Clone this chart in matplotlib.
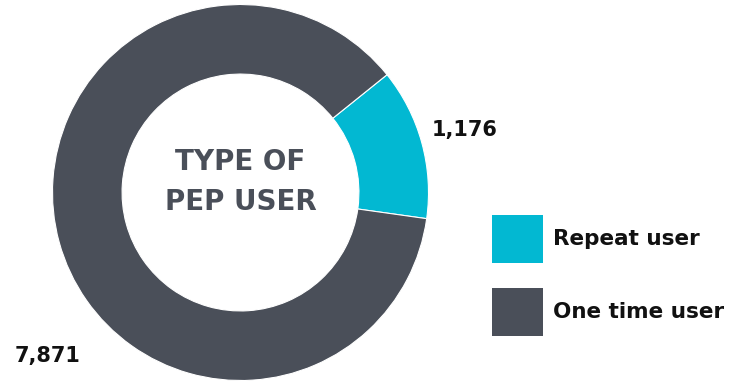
import matplotlib.pyplot as plt
from matplotlib.patches import Rectangle

# PEP user breakdown
labels = ["Repeat user", "One time user"]
counts = [1176, 7871]
colors = ["#02b8d2", "#4a4f59"]

W, H = 733, 384
plt.rcParams['font.family'] = ['DejaVu Sans']

fig = plt.figure(figsize=(W / 100, H / 100), dpi=100)

# overlay axes in pixel units for the legend
bg = fig.add_axes([0, 0, 1, 1])
bg.set_xlim(0, W)
bg.set_ylim(H, 0)
bg.axis('off')

# donut
cx, cy, r = 240.5, 192.5, 188
ax = fig.add_axes([(cx - r) / W, (H - cy - r) / H, 2 * r / W, 2 * r / H])
wedges, _ = ax.pie(counts, colors=colors, startangle=-8, counterclock=True,
                   radius=1, wedgeprops=dict(width=0.37, edgecolor='white', linewidth=0.8))
ax.set_xlim(-1, 1)
ax.set_ylim(-1, 1)
ax.set_aspect('equal')
ax.axis('off')

ax.text(0, 0.16, "TYPE OF", ha='center', va='center', fontsize=20,
        fontweight='bold', color='#4a4f59')
ax.text(0, -0.05, "PEP USER", ha='center', va='center', fontsize=20,
        fontweight='bold', color='#4a4f59')

# value labels
ax.text(1.015, 0.33, f"{counts[0]:,}", ha='left', va='center', fontsize=15,
        fontweight='bold', color='#111111', clip_on=False)
ax.text(-1.027, -0.87, f"{counts[1]:,}", ha='center', va='center', fontsize=15,
        fontweight='bold', color='#111111', clip_on=False)

# legend
for i, (lab, col) in enumerate(zip(labels, colors)):
    y0 = 215 + i * 73
    bg.add_patch(Rectangle((492, y0), 51, 48, facecolor=col, edgecolor='none'))
    bg.text(553, y0 + 24, lab, ha='left', va='center', fontsize=15.5,
            fontweight='bold', color='#111111')

fig.savefig("out.png", dpi=100)
